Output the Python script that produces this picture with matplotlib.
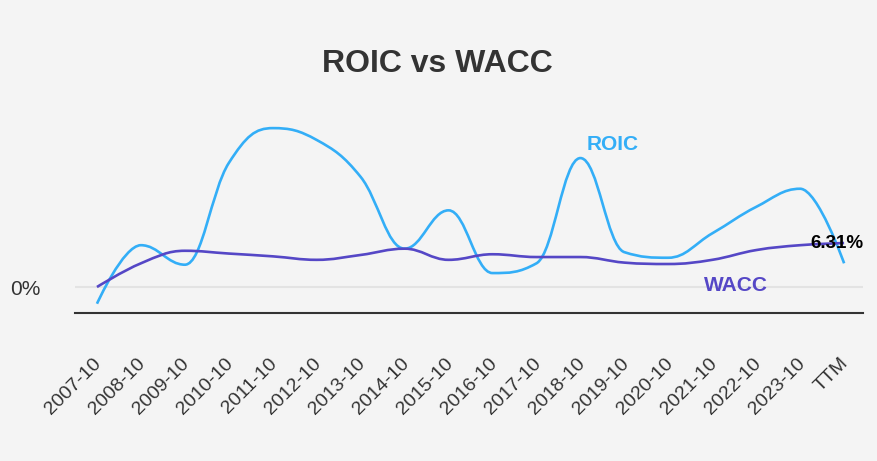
import numpy as np
import matplotlib
matplotlib.use("Agg")
import matplotlib.pyplot as plt
import matplotlib.transforms as mtransforms
from matplotlib.path import Path
from matplotlib.patches import PathPatch

categories = ["2007-10", "2008-10", "2009-10", "2010-10", "2011-10", "2012-10",
              "2013-10", "2014-10", "2015-10", "2016-10", "2017-10", "2018-10",
              "2019-10", "2020-10", "2021-10", "2022-10", "2023-10", "TTM"]
roic = [-2.4, 6.0, 3.2, 17.8, 22.8, 21.1, 15.8, 5.5, 11.0, 2.0, 3.4, 18.5,
        5.0, 4.2, 7.7, 11.5, 14.1, 3.4]
wacc = [0.0, 3.4, 5.2, 4.8, 4.4, 3.9, 4.6, 5.5, 3.9, 4.7, 4.3, 4.3,
        3.5, 3.3, 3.9, 5.3, 6.0, 6.31]

ROIC_C = "#33aef7"
WACC_C = "#5547c6"
BG = "#f4f4f4"

plt.rcParams['font.family'] = ['Liberation Sans', 'DejaVu Sans']


def spline_path(xv, yv, smoothing=1.5):
    """Cubic Bezier path through the points (Highcharts-style spline)."""
    denom = smoothing + 1
    n = len(xv)
    left = [None] * n
    right = [None] * n
    for i in range(n):
        px, py = float(xv[i]), float(yv[i])
        if i == 0 or i == n - 1:
            left[i] = (px, py)
            right[i] = (px, py)
            continue
        lx, ly = float(xv[i - 1]), float(yv[i - 1])
        nx, ny = float(xv[i + 1]), float(yv[i + 1])
        lcx = (smoothing * px + lx) / denom
        lcy = (smoothing * py + ly) / denom
        rcx = (smoothing * px + nx) / denom
        rcy = (smoothing * py + ny) / denom
        if rcx != lcx:
            corr = ((rcy - lcy) * (rcx - px)) / (rcx - lcx) + py - rcy
            lcy += corr
            rcy += corr
            if lcy > ly and lcy > py:
                lcy = max(ly, py)
                rcy = 2 * py - lcy
            elif lcy < ly and lcy < py:
                lcy = min(ly, py)
                rcy = 2 * py - lcy
            if rcy > ny and rcy > py:
                rcy = max(ny, py)
                lcy = 2 * py - rcy
            elif rcy < ny and rcy < py:
                rcy = min(ny, py)
                lcy = 2 * py - rcy
        left[i] = (lcx, lcy)
        right[i] = (rcx, rcy)
    verts = [(float(xv[0]), float(yv[0]))]
    codes = [Path.MOVETO]
    for i in range(1, n):
        verts += [right[i - 1], left[i], (float(xv[i]), float(yv[i]))]
        codes += [Path.CURVE4] * 3
    return Path(verts, codes)


fig = plt.figure(figsize=(8.77, 4.61), dpi=100, facecolor=BG)
ax = fig.add_axes([75 / 877, 1 - 313 / 461, (863 - 75) / 877, (313 - 110) / 461])
ax.set_facecolor(BG)

x = np.arange(len(categories))
ax.add_patch(PathPatch(spline_path(x, roic), facecolor="none", edgecolor=ROIC_C,
                       lw=1.9, zorder=3, capstyle='butt'))
ax.add_patch(PathPatch(spline_path(x, wacc), facecolor="none", edgecolor=WACC_C,
                       lw=1.9, zorder=4, capstyle='butt'))

ax.axhline(0, color="#e3e3e3", lw=1.5, zorder=1)

ax.set_xlim(-0.5, len(categories) - 1 + 0.43)
ax.set_ylim(-3.73, 25.4)

for s in ["top", "right", "left"]:
    ax.spines[s].set_visible(False)
ax.spines["bottom"].set_color("#333333")
ax.spines["bottom"].set_linewidth(1.5)

ax.set_xticks(x)
ax.set_xticklabels(categories, rotation=45, ha="right", rotation_mode="anchor",
                   fontsize=14, color="#333333")
ax.tick_params(axis="x", length=0, pad=30)
offset = mtransforms.ScaledTranslation(-4 / 100, 0, fig.dpi_scale_trans)
for lab in ax.get_xticklabels():
    lab.set_transform(lab.get_transform() + offset)
ax.set_yticks([0])
ax.set_yticklabels(["0%"], fontsize=15, color="#333333")
ax.tick_params(axis="y", length=0, pad=25)

fig.text(437 / 877, 1 - 64 / 461, "ROIC vs WACC", ha="center", va="center",
         fontsize=23, fontweight="bold", color="#333333")

ax.text(11.73, 20.5, "ROIC", color=ROIC_C, fontsize=15, fontweight="bold",
        ha="center", va="center")
ax.text(14.53, 0.2, "WACC", color=WACC_C, fontsize=15, fontweight="bold",
        ha="center", va="center")
ax.text(16.83, wacc[-1], f"{wacc[-1]:.2f}%", color="black",
        fontsize=13.5, fontweight="bold", ha="center", va="center", zorder=5)

fig.savefig("out.png", dpi=100, facecolor=BG)
